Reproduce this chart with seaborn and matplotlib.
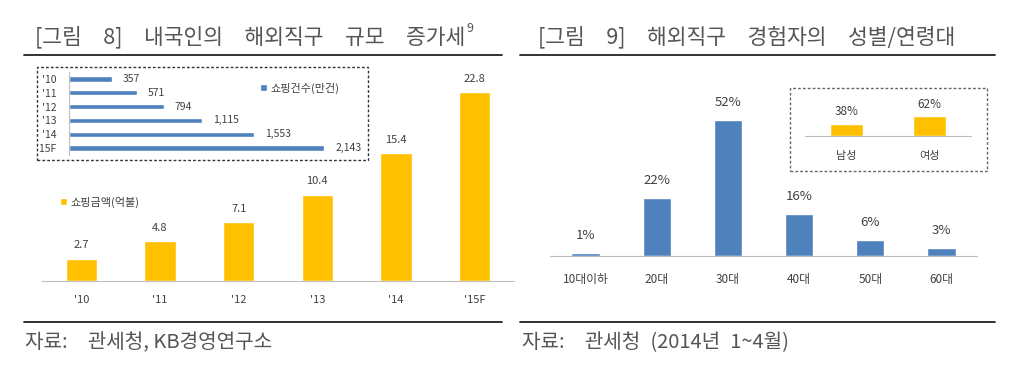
import numpy as np
import seaborn as sns
import matplotlib
matplotlib.use("Agg")
import matplotlib.pyplot as plt
from matplotlib.lines import Line2D
from matplotlib.patches import Rectangle

# data
years = ["'10", "'11", "'12", "'13", "'14", "'15F"]
shop_amount = [2.7, 4.8, 7.1, 10.4, 15.4, 22.8]      # 억불
shop_count = [357, 571, 794, 1115, 1553, 2143]       # 만건
age_groups = ["10대이하", "20대", "30대", "40대", "50대", "60대"]
age_share = [1, 22, 52, 16, 6, 3]
genders = ["남성", "여성"]
gender_share = [38, 62]

# wide spacing like the original report typesetting
SP = "\u3000"
EN = "\u2002"
title_left = SP.join(["[그림", "8]", "내국인의", "해외직구", "규모", "증가세"])
title_right = SP.join(["[그림", "9]", "해외직구", "경험자의", "성별/연령대"])
source_left = "자료:" + SP + "관세청, KB경영연구소"
source_right = "자료:" + SP + "관세청" + EN + "(2014년" + EN + "1~4월)"

YELLOW = "#FFC000"
BLUE = "#4F81BD"
TXT = "#404040"
AXC = "#BFBFBF"
HEAD = "#555555"

sns.set_style("white")
plt.rcParams["font.family"] = ["Noto Sans CJK KR", "DejaVu Sans"]

W, H = 1024, 373
fig = plt.figure(figsize=(W / 100, H / 100), dpi=100)


def px_axes(x0, y0, x1, y1):
    # pixel box (top-left origin) -> figure axes
    return fig.add_axes([x0 / W, 1 - y1 / H, (x1 - x0) / W, (y1 - y0) / H])


def hline(x0, x1, y, lw=1.3, color="#222222"):
    fig.add_artist(Line2D([x0 / W, x1 / W], [1 - y / H, 1 - y / H],
                          transform=fig.transFigure, color=color, lw=lw))


def dashed_box(x0, y0, x1, y1, color="#333333"):
    fig.add_artist(Rectangle((x0 / W, 1 - y1 / H), (x1 - x0) / W, (y1 - y0) / H,
                             transform=fig.transFigure, fill=False,
                             ls=(0, (2, 1.5)), lw=1.0, edgecolor=color))


def clean_cat_axis(ax, n, pad, fs):
    for s in ["top", "right", "left"]:
        ax.spines[s].set_visible(False)
    ax.spines["bottom"].set_color(AXC)
    ax.set_yticks([])
    ax.set_xticks(np.arange(-0.5, n), minor=True)
    ax.tick_params(axis="x", which="major", length=0, pad=pad, labelsize=fs, labelcolor=TXT)
    ax.tick_params(axis="x", which="minor", length=4, color=AXC, width=0.8)
    ax.set_xlabel("")
    ax.set_ylabel("")
    ax.set_xlim(-0.5, n - 0.5)


# ---------- left panel ----------
t1 = fig.text(35 / W, 1 - 37 / H, title_left, fontsize=15.5, color=HEAD,
              va="center", fontweight="light")
hline(24, 502, 55)
hline(24, 502, 322)
fig.text(25 / W, 1 - 343 / H, source_left, fontsize=14.5, color=HEAD,
         va="center", fontweight="light")

# footnote mark right after the title
r = fig.canvas.get_renderer()
bb = t1.get_window_extent(renderer=r)
fig.text((bb.x1 + 1) / W, 1 - 29 / H, "9", fontsize=9, color=HEAD, va="center")

ax1 = px_axes(42, 65.5, 514, 281)
sns.barplot(x=years, y=shop_amount, color=YELLOW, width=0.4, saturation=1,
            label="쇼핑금액(억불)", ax=ax1)
ax1.set_ylim(0, 26)
clean_cat_axis(ax1, len(years), pad=10, fs=8)
ax1.bar_label(ax1.containers[0], labels=[f"{v:.1f}" for v in shop_amount],
              padding=6, fontsize=8, color=TXT)
ax1.legend(loc="center left", bbox_to_anchor=(50 / W, 1 - 202 / H),
           bbox_transform=fig.transFigure, frameon=False, fontsize=8,
           handlelength=0.6, handleheight=0.6, handletextpad=0.3,
           labelcolor=TXT)

# inset: shopping counts
dashed_box(37, 67, 368, 160)
ax1i = px_axes(69, 72, 355, 155)
sns.barplot(x=shop_count, y=years, orient="h", color=BLUE, width=0.38,
            saturation=1, label="쇼핑건수(만건)", ax=ax1i)
ax1i.set_xlim(0, 2400)
for s in ["top", "right", "bottom"]:
    ax1i.spines[s].set_visible(False)
ax1i.spines["left"].set_color(AXC)
ax1i.set_xticks([])
ax1i.set_yticks(np.arange(-0.5, len(years)), minor=True)
ax1i.tick_params(axis="y", which="major", length=0, pad=9, labelsize=7.5, labelcolor=TXT)
ax1i.tick_params(axis="y", which="minor", length=3, color=AXC)
ax1i.set_xlabel("")
ax1i.set_ylabel("")
ax1i.bar_label(ax1i.containers[0], labels=[f"{v:,}" for v in shop_count],
               padding=8, fontsize=7.5, color=TXT)
ax1i.legend(loc="center left", bbox_to_anchor=(250 / W, 1 - 88 / H),
            bbox_transform=fig.transFigure, frameon=False, fontsize=8,
            handlelength=0.6, handleheight=0.6, handletextpad=0.3,
            labelcolor=TXT)

# ---------- right panel ----------
fig.text(538 / W, 1 - 37 / H, title_right, fontsize=15.5, color=HEAD,
         va="center", fontweight="light")
hline(520, 995, 55)
hline(520, 995, 322)
fig.text(522 / W, 1 - 343 / H, source_right, fontsize=14.5, color=HEAD,
         va="center", fontweight="light")

ax2 = px_axes(550, 99, 977, 256)
sns.barplot(x=age_groups, y=age_share, color=BLUE, width=0.4, saturation=1, ax=ax2)
ax2.set_ylim(0, 60)
clean_cat_axis(ax2, len(age_groups), pad=12, fs=8.5)
ax2.bar_label(ax2.containers[0], labels=[f"{v}%" for v in age_share],
              padding=8, fontsize=9.5, color=TXT)

# inset: gender
dashed_box(790, 88, 987, 171, color="#666666")
ax2i = px_axes(805, 104, 971, 136)
sns.barplot(x=genders, y=gender_share, color=YELLOW, width=0.39, saturation=1, ax=ax2i)
ax2i.set_ylim(0, 100)
clean_cat_axis(ax2i, len(genders), pad=11, fs=8)
ax2i.bar_label(ax2i.containers[0], labels=[f"{v}%" for v in gender_share],
               padding=4, fontsize=8.5, color=TXT)

fig.savefig("out.png", dpi=100)
